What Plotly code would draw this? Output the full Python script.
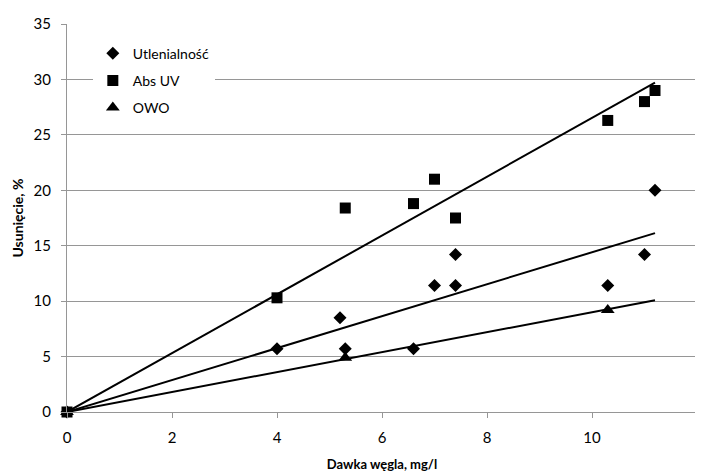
import numpy as np
import plotly.graph_objects as go

# Data
utl_x = [0, 4, 5.2, 5.3, 6.6, 7, 7.4, 7.4, 10.3, 11, 11.2]
utl_y = [0, 5.7, 8.5, 5.7, 5.7, 11.4, 11.4, 14.2, 11.4, 14.2, 20.0]

abs_x = [0, 4, 5.3, 6.6, 7, 7.4, 10.3, 11, 11.2]
abs_y = [0, 10.3, 18.4, 18.8, 21.0, 17.5, 26.3, 28.0, 29.0]

owo_x = [0, 5.3, 10.3]
owo_y = [0, 4.9, 9.2]

x_ticks = [0, 2, 4, 6, 8, 10, 12]
y_ticks = [0, 5, 10, 15, 20, 25, 30, 35]

FONT = "Lato"
GRID = "#969696"

fig = go.Figure()

x_end = max(max(utl_x), max(abs_x), max(owo_x))


def trend(xs, ys):
    xs = np.array(xs, float)
    ys = np.array(ys, float)
    k = (xs * ys).sum() / (xs * xs).sum()  # linear fit through origin
    tx = np.array([0.0, x_end])
    return tx, k * tx


series = [
    ("Utlenialność", utl_x, utl_y, "diamond", 10, 1),
    ("Abs UV", abs_x, abs_y, "square", 11, 2),
    ("OWO", owo_x, owo_y, "triangle-up", 12, 3),
]

for name, xs, ys, sym, sz, rank in series:
    tx, ty = trend(xs, ys)
    fig.add_trace(go.Scatter(
        x=tx, y=ty, mode="lines", showlegend=False,
        line=dict(color="black", width=2), hoverinfo="skip",
    ))

# draw squares last so the origin square sits on top
for idx in (0, 2, 1):
    name, xs, ys, sym, sz, rank = series[idx]
    fig.add_trace(go.Scatter(
        x=xs, y=ys, mode="markers", name=name,
        legendgroup=name, legendrank=rank, cliponaxis=False,
        marker=dict(symbol=sym, size=sz, color="black"),
    ))

# page has an 8px body margin, so the figure is drawn 8px right/down
fig.update_layout(
    width=695, height=464,
    margin=dict(l=59, r=6, t=16, b=60),
    paper_bgcolor="white", plot_bgcolor="white",
    font=dict(family=FONT, size=15, color="black"),
    showlegend=True,
    legend=dict(
        x=0.041, y=0.965, xanchor="left", yanchor="top",
        bgcolor="white", traceorder="grouped", tracegroupgap=6,
        font=dict(family=FONT, size=14, color="black"),
        itemwidth=30,
    ),
    xaxis=dict(
        range=[0, 12], tickvals=x_ticks, showgrid=False,
        showline=True, linecolor=GRID, linewidth=1,
        ticks="outside", ticklen=5, tickcolor=GRID,
        ticklabelstandoff=7,
        zeroline=False, automargin=False,
        title=dict(text="<b>Dawka węgla, mg/l</b>", font=dict(family=FONT, size=13), standoff=14),
    ),
    yaxis=dict(
        range=[0, 35], tickvals=y_ticks, showgrid=True, gridcolor=GRID, gridwidth=1,
        showline=True, linecolor=GRID, linewidth=1,
        ticks="outside", ticklen=5, tickcolor=GRID,
        ticklabelstandoff=7,
        zeroline=False, automargin=False,
        title=dict(text="<b>Usunięcie, %</b>", font=dict(family=FONT, size=14), standoff=6),
    ),
)

fig.write_html("out.html")
